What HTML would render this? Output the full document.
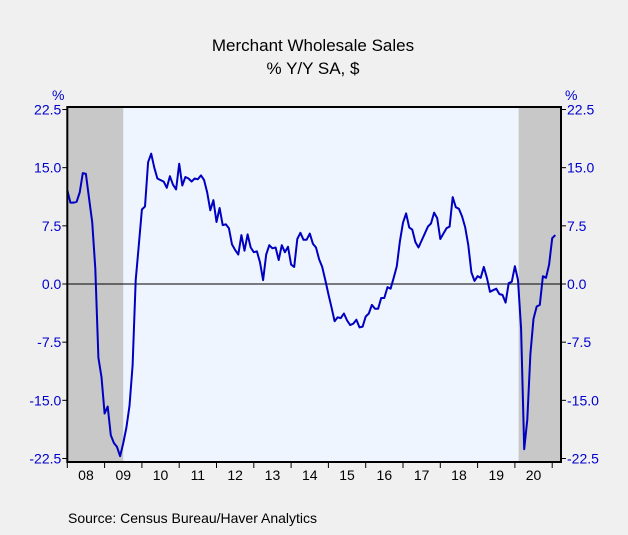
<!DOCTYPE html>
<html><head><meta charset="utf-8"><style>
body{margin:0;background:#f0f0f0;font-family:"Liberation Sans",sans-serif;}
svg text{font-family:"Liberation Sans",sans-serif;}
</style></head><body>
<svg id="chart" width="628" height="530" xmlns="http://www.w3.org/2000/svg">
<rect x="0" y="0" width="628" height="530" fill="#f0f0f0"/>
<text x="313" y="51" font-size="17" text-anchor="middle" fill="#000">Merchant Wholesale Sales</text>
<text x="313" y="74" font-size="17" text-anchor="middle" fill="#000">% Y/Y   SA, $</text>
<text x="52" y="100" font-size="14" fill="#0000cc">%</text>
<text x="565" y="100" font-size="14" fill="#0000cc">%</text>
<g id="plot"></g>
<text x="68" y="523" font-size="14" fill="#000">Source:  Census Bureau/Haver Analytics</text>
</svg>
<script>
const yTicks=[22.5,15.0,7.5,0.0,-7.5,-15.0,-22.5];
const yearLabels=["08","09","10","11","12","13","14","15","16","17","18","19","20"];
const recessions=[[2008.0,2009.5],[2020.1,2021.25]];
const y2008=[12.1,10.5,10.5,10.6,11.8,14.3,14.2,11,8,2,-9.5,-12];
const y2009=[-16.7,-15.8,-19.5,-20.5,-21,-22.2,-20.5,-18.5,-15.7,-10.5,0.5,5];
const y2010=[9.6,10,15.7,16.8,15,13.6,13.4,13.2,12.4,13.9,12.8,12.2];
const y2011=[15.5,12.7,13.8,13.6,13.2,13.6,13.5,14,13.4,11.8,9.5,10.8];
const y2012=[8,9.8,7.6,7.7,7.2,5.1,4.4,3.8,6.3,4.3,6.4,4.7];
const y2013=[4.1,4.2,2.8,0.5,3.8,5,4.6,4.7,3.1,5,4.1,4.8];
const y2014=[2.5,2.2,5.8,6.6,5.7,5.7,6.5,5.2,4.7,3.2,2.2,0.5];
const y2015=[-1.3,-3,-4.8,-4.3,-4.4,-3.8,-4.7,-5.3,-5.1,-4.6,-5.6,-5.5];
const y2016=[-4.2,-3.8,-2.7,-3.2,-3.2,-1.8,-1.8,-0.4,-0.6,0.8,2.3,5.5];
const y2017=[7.9,9.1,7.3,7,5.4,4.7,5.6,6.5,7.4,7.8,9.2,8.5];
const y2018=[5.8,6.5,7.2,7.4,11.2,9.9,9.7,8.7,7.3,5,1.5,0.4];
const y2019=[1,0.8,2.2,0.8,-1,-0.8,-0.6,-1.3,-1.4,-2.4,0.1,0.3];
const y2020=[2.3,0.5,-5.8,-21.3,-17.5,-9,-4.5,-2.9,-2.7,1,0.8,2.5];
const y2021=[5.9,6.3];
const values=[].concat(y2008,y2009,y2010,y2011,y2012,y2013,y2014,y2015,y2016,y2017,y2018,y2019,y2020,y2021);

const NS="http://www.w3.org/2000/svg";
const L=67.3,R=561,T=107,B=462,PY=37.3;
const xS=t=>L+(t-2008)*PY;
const yS=v=>284-v*(349/45);
const g=document.getElementById('plot');
function mk(tag,attrs){const e=document.createElementNS(NS,tag);for(const k in attrs)e.setAttribute(k,attrs[k]);g.appendChild(e);return e;}

const bg=mk('rect',{x:L,y:T,width:R-L,height:B-T,fill:'#eef5ff'});


recessions.forEach(r=>{
  const x1=xS(r[0]),x2=Math.min(xS(r[1]),R);
  const e=mk('rect',{x:x1,y:T,width:x2-x1,height:B-T,fill:'#c8c8c8'});
  
  
});
const z=mk('line',{x1:L,x2:R,y1:yS(0),y2:yS(0),stroke:'#000','stroke-width':1});


const pts=values.map((v,i)=>xS(2008+i/12).toFixed(1)+','+yS(v).toFixed(1)).join(' ');
const line=mk('polyline',{points:pts,fill:'none',stroke:'#0000c0','stroke-width':2,'stroke-linejoin':'round'});


const fr=mk('rect',{x:L,y:T,width:R-L,height:B-T,fill:'none',stroke:'#000','stroke-width':2});


yTicks.forEach(v=>{
  const y=yS(v);
  mk('line',{x1:L-5,x2:L,y1:y,y2:y,stroke:'#000'});
  mk('line',{x1:R,x2:R+5,y1:y,y2:y,stroke:'#000'});
  const a=mk('text',{x:L-6,y:y+5,'font-size':14,'text-anchor':'end',fill:'#0000cc'});
  a.textContent=v.toFixed(1);
  
  
  const b=mk('text',{x:R+6,y:y+5,'font-size':14,fill:'#0000cc'});
  b.textContent=v.toFixed(1);
  
  
});
yearLabels.forEach((lab,i)=>{
  const x=xS(2008+i);
  mk('line',{x1:x,x2:x,y1:B,y2:B+6,stroke:'#000'});
  const t=mk('text',{x:x+PY/2,y:B+18,'font-size':14,'text-anchor':'middle',fill:'#000'});
  t.textContent=lab;
  
  
});
mk('line',{x1:xS(2021),x2:xS(2021),y1:B,y2:B+6,stroke:'#000'});
</script>
</body></html>
